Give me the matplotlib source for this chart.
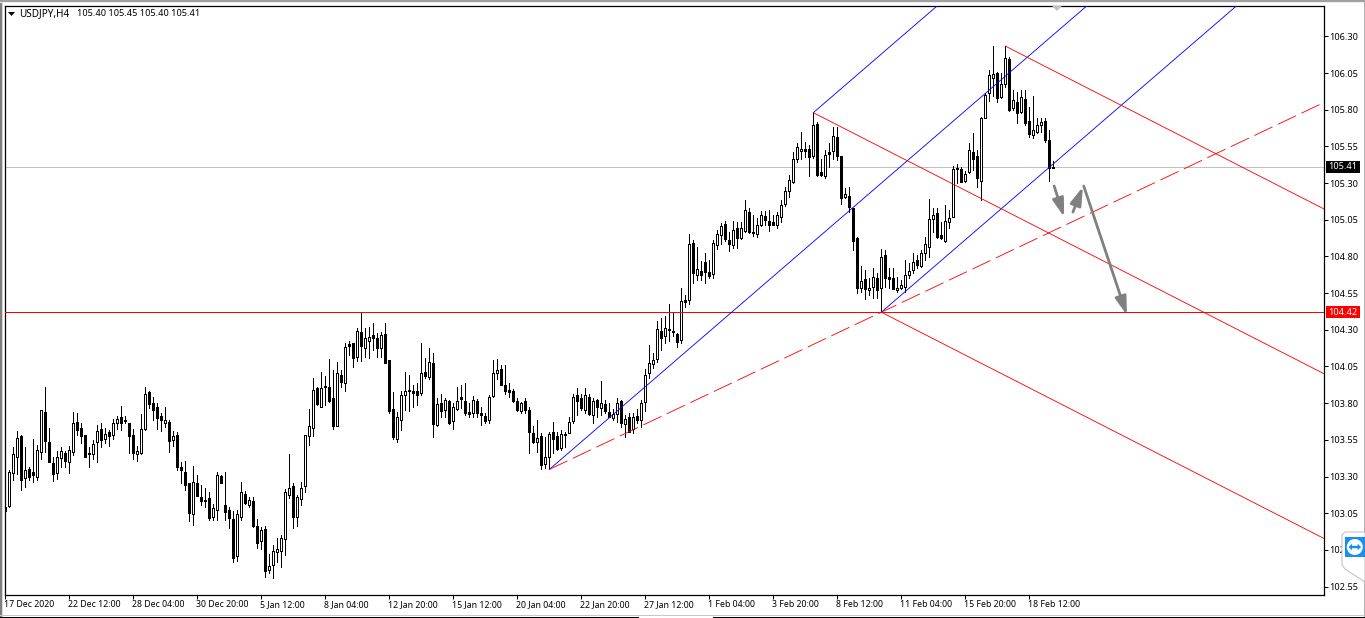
import matplotlib
matplotlib.use("Agg")
import matplotlib.pyplot as plt
from matplotlib.patches import Polygon, Rectangle, Circle
from matplotlib.transforms import Affine2D, ScaledTranslation

symbol_text = "USDJPY,H4"
ohlc_text = "105.40 105.45 105.40 105.41"

opens = [
103.091,103.102,103.323,103.436,103.577,103.289,103.350,103.332,103.300,103.470,
103.741,103.536,103.391,103.327,103.423,103.461,103.402,103.470,103.673,103.630,
103.582,103.459,103.450,103.532,103.623,103.559,103.605,103.580,103.668,103.705,
103.684,103.664,103.582,103.450,103.457,103.625,103.877,103.800,103.773,103.714,
103.668,103.670,103.550,103.582,103.364,103.332,103.257,103.041,103.255,103.159,
103.139,103.155,103.027,103.070,103.302,103.105,103.070,103.009,102.761,103.027,
103.182,103.109,103.132,102.961,102.857,102.941,102.666,102.700,102.782,102.789,
102.873,103.175,103.236,103.023,103.150,103.234,103.573,103.630,103.905,103.777,
103.907,103.909,103.834,103.645,103.992,103.939,104.203,104.208,104.117,104.283,
104.178,104.226,104.262,104.244,104.178,104.269,104.094,103.758,103.558,103.685,
103.858,103.887,103.880,103.880,103.871,104.012,103.980,104.071,103.648,103.801,
103.753,103.814,103.680,103.758,103.839,103.812,103.737,103.730,103.814,103.730,
103.712,103.687,103.851,104.008,104.035,103.921,103.892,103.883,103.812,103.748,
103.812,103.751,103.598,103.537,103.578,103.385,103.435,103.601,103.576,103.494,
103.592,103.598,103.680,103.855,103.835,103.753,103.844,103.721,103.821,103.769,
103.792,103.739,103.701,103.726,103.814,103.660,103.705,103.621,103.712,103.685,
103.810,104.003,104.067,104.098,104.292,104.260,104.300,104.292,104.271,104.230,
104.500,104.500,104.892,104.676,104.698,104.760,104.691,104.678,104.878,104.944,
105.021,104.910,104.880,104.991,104.923,104.976,105.103,104.964,104.950,105.017,
105.076,105.041,105.034,105.014,105.071,105.157,105.248,105.310,105.466,105.521,
105.530,105.530,105.487,105.703,105.373,105.350,105.510,105.521,105.612,105.485,
105.207,105.210,105.130,104.923,104.582,104.644,104.569,104.589,104.650,104.582,
104.807,104.657,104.650,104.569,104.587,104.589,104.673,104.707,104.775,104.734,
104.825,104.866,105.057,105.094,104.944,104.907,105.032,105.071,105.396,105.396,
105.314,105.373,105.512,105.485,105.316,105.746,105.911,106.018,106.048,105.884,
105.975,106.146,105.810,105.852,105.784,105.873,105.723,105.627,105.648,105.698,
105.723,105.593,105.400]

highs = [
103.175,103.345,103.500,103.611,103.584,103.498,103.368,103.557,103.516,103.755,
103.907,103.634,103.436,103.475,103.498,103.477,103.505,103.739,103.734,103.664,
103.584,103.500,103.550,103.652,103.664,103.630,103.618,103.691,103.714,103.782,
103.714,103.664,103.625,103.507,103.727,103.909,103.884,103.845,103.800,103.732,
103.775,103.686,103.607,103.605,103.402,103.407,103.257,103.373,103.311,103.243,
103.220,103.193,103.114,103.334,103.307,103.330,103.089,103.068,103.073,103.261,
103.200,103.157,103.159,103.011,102.959,102.964,102.773,102.834,102.880,102.902,
103.214,103.455,103.255,103.175,103.264,103.584,103.761,103.973,103.909,104.014,
103.982,104.102,104.027,104.080,104.026,104.208,104.226,104.212,104.310,104.419,
104.310,104.321,104.346,104.276,104.287,104.346,104.094,103.878,103.742,103.885,
104.012,103.992,103.923,103.935,104.208,104.105,104.178,104.144,103.833,103.860,
103.837,103.821,103.798,103.908,103.923,103.939,103.803,103.851,103.826,103.776,
103.730,103.855,104.094,104.098,104.060,104.060,103.935,103.894,103.833,103.810,
103.833,103.771,103.644,103.685,103.598,103.571,103.605,103.673,103.605,103.617,
103.605,103.708,103.862,103.901,103.862,103.901,103.862,103.833,103.828,103.951,
103.821,103.798,103.758,103.833,103.821,103.719,103.730,103.730,103.760,103.821,
104.030,104.196,104.140,104.360,104.378,104.394,104.476,104.423,104.280,104.582,
104.537,104.950,104.912,104.862,104.771,104.825,104.775,104.912,104.980,105.026,
105.041,104.969,105.044,105.037,105.037,105.185,105.128,105.082,105.060,105.112,
105.112,105.117,105.082,105.100,105.185,105.271,105.355,105.514,105.571,105.650,
105.582,105.560,105.780,105.719,105.462,105.525,105.571,105.680,105.680,105.485,
105.264,105.271,105.132,104.935,104.734,104.707,104.650,104.719,104.684,104.850,
104.843,104.719,104.719,104.657,104.639,104.775,104.753,104.821,104.810,104.843,
104.935,105.191,105.128,105.128,105.037,105.150,105.116,105.416,105.428,105.412,
105.385,105.575,105.643,105.525,105.748,105.911,106.071,106.234,106.060,106.048,
106.234,106.161,105.934,105.923,105.934,105.934,105.820,105.893,105.741,105.741,
105.741,105.661,105.450]

lows = [
103.061,103.089,103.277,103.318,103.209,103.227,103.277,103.264,103.277,103.420,
103.470,103.398,103.266,103.286,103.364,103.368,103.327,103.448,103.586,103.527,
103.432,103.368,103.420,103.402,103.498,103.527,103.509,103.557,103.623,103.618,
103.668,103.457,103.420,103.409,103.455,103.620,103.770,103.682,103.627,103.607,
103.639,103.470,103.511,103.345,103.255,103.209,103.000,102.966,103.164,103.109,
103.095,103.005,103.005,103.005,103.255,103.005,102.952,102.720,102.727,103.005,
103.114,103.089,102.959,102.814,102.807,102.618,102.639,102.611,102.720,102.686,
102.766,103.152,102.952,102.964,103.107,103.191,103.518,103.573,103.789,103.777,
103.789,103.811,103.623,103.641,103.908,103.885,104.128,104.048,104.087,104.087,
104.112,104.105,104.162,104.112,104.112,104.071,103.730,103.553,103.537,103.617,
103.753,103.746,103.776,103.787,103.855,103.969,103.962,103.571,103.644,103.708,
103.708,103.658,103.623,103.753,103.764,103.719,103.708,103.708,103.708,103.648,
103.662,103.662,103.844,103.962,103.923,103.862,103.844,103.810,103.748,103.730,
103.735,103.458,103.526,103.469,103.348,103.355,103.348,103.458,103.480,103.480,
103.503,103.594,103.662,103.719,103.753,103.730,103.719,103.667,103.708,103.719,
103.730,103.703,103.685,103.673,103.639,103.571,103.601,103.594,103.662,103.635,
103.749,103.970,104.038,104.082,104.162,104.208,104.226,104.257,104.180,104.208,
104.453,104.476,104.621,104.639,104.639,104.621,104.651,104.651,104.848,104.885,
104.907,104.839,104.855,104.860,104.919,104.969,104.962,104.940,104.930,105.008,
105.014,104.976,105.012,104.991,105.037,105.144,105.208,105.298,105.441,105.464,
105.475,105.348,105.469,105.348,105.348,105.337,105.412,105.462,105.457,105.157,
105.196,105.105,104.843,104.548,104.560,104.507,104.537,104.514,104.514,104.423,
104.594,104.582,104.575,104.560,104.575,104.560,104.650,104.684,104.719,104.725,
104.775,104.798,104.968,104.923,104.916,104.900,104.991,105.071,105.298,105.307,
105.310,105.366,105.389,105.275,105.185,105.741,105.862,105.893,105.855,105.878,
105.957,105.791,105.798,105.712,105.780,105.695,105.611,105.605,105.639,105.650,
105.582,105.316,105.400]

closes = [
103.068,103.330,103.452,103.561,103.277,103.345,103.300,103.307,103.482,103.755,
103.539,103.402,103.320,103.432,103.473,103.409,103.480,103.664,103.620,103.573,
103.436,103.450,103.520,103.609,103.552,103.591,103.573,103.664,103.691,103.668,
103.680,103.573,103.457,103.473,103.623,103.861,103.791,103.755,103.702,103.682,
103.684,103.539,103.573,103.368,103.341,103.239,103.048,103.261,103.170,103.134,
103.130,103.018,103.086,103.311,103.259,103.061,103.020,102.745,103.043,103.193,
103.116,103.139,102.964,102.850,102.936,102.659,102.689,102.791,102.805,102.880,
103.193,103.220,103.027,103.159,103.220,103.582,103.641,103.889,103.791,103.900,
103.920,103.816,103.641,104.005,103.944,104.183,104.192,104.110,104.289,104.192,
104.242,104.248,104.244,104.173,104.262,104.076,103.748,103.571,103.703,103.853,
103.880,103.885,103.871,103.855,104.003,103.985,104.078,103.658,103.792,103.746,
103.821,103.667,103.771,103.817,103.830,103.735,103.726,103.821,103.735,103.721,
103.680,103.839,104.003,104.023,103.926,103.885,103.876,103.814,103.753,103.798,
103.753,103.605,103.537,103.560,103.380,103.430,103.587,103.558,103.487,103.587,
103.583,103.669,103.839,103.817,103.767,103.853,103.726,103.814,103.776,103.801,
103.748,103.708,103.723,103.798,103.667,103.689,103.605,103.703,103.685,103.799,
103.992,104.076,104.094,104.303,104.246,104.310,104.305,104.282,104.219,104.494,
104.491,104.882,104.690,104.714,104.676,104.696,104.669,104.889,104.950,105.010,
104.921,104.887,104.978,104.928,104.991,105.114,104.969,104.960,105.012,105.080,
105.048,105.014,105.017,105.082,105.148,105.244,105.319,105.462,105.544,105.530,
105.521,105.480,105.694,105.357,105.357,105.490,105.500,105.619,105.487,105.200,
105.223,105.139,104.907,104.582,104.632,104.580,104.582,104.657,104.571,104.798,
104.650,104.644,104.580,104.582,104.603,104.671,104.698,104.760,104.744,104.823,
104.882,105.053,105.080,104.930,104.925,105.039,105.060,105.396,105.403,105.310,
105.362,105.523,105.466,105.332,105.741,105.900,106.037,106.041,105.880,105.975,
106.150,105.798,105.866,105.780,105.887,105.707,105.634,105.661,105.695,105.714,
105.593,105.400,105.410]

price_ticks = [106.30,106.05,105.80,105.55,105.30,105.05,104.80,104.55,
               104.30,104.05,103.80,103.55,103.30,103.05,102.80,102.55]
time_labels = ["17 Dec 2020","22 Dec 12:00","28 Dec 04:00","30 Dec 20:00","5 Jan 12:00",
               "8 Jan 04:00","12 Jan 20:00","15 Jan 12:00","20 Jan 04:00","22 Jan 20:00",
               "27 Jan 12:00","1 Feb 04:00","3 Feb 20:00","8 Feb 12:00","11 Feb 04:00",
               "15 Feb 20:00","18 Feb 12:00"]
time_tick_bars = list(range(0, 272, 16))

support_level = 104.42
# pitchfork anchors (bar, price)
blue_fork = [(136, 103.348), (202, 105.78), (219, 104.42)]
red_fork = [(202, 105.78), (250, 106.234), (219, 104.42)]
trend_ray = [(136, 103.348), (219, 104.42)]
# forecast arrows (bar, price) -> (bar, price)
arrows = [((262.2, 105.28), (264.7, 105.069)),
          ((266.9, 105.103), (269.4, 105.275)),
          ((269.6, 105.28), (280.4, 104.40))]

W, H = 1365, 618
FONT = "Noto Sans"
FS = 6.3
FS_Y = 6.6
fig = plt.figure(figsize=(W / 100, H / 100), dpi=100, facecolor="white")
L, R, T, B = 4.5, 1323.5, 5.5, 594.5
ax = fig.add_axes([L / W, 1 - B / H, (R - L) / W, (B - T) / H])
ax.set_xlim((L - 5.33) / 4, (R - 5.33) / 4)
ax.set_ylim(106.30 - (B - 36.4) / 146.7, 106.30 - (T - 36.4) / 146.7)
for s in ax.spines.values():
    s.set_linewidth(0.9)
    s.set_color("black")

LW = 0.72
RAY_LW = 0.62
xs = list(range(len(opens)))
ax.vlines(xs, lows, highs, color="black", lw=LW, antialiased=False, zorder=3)
for i in xs:
    bull = closes[i] >= opens[i]
    lo, hi = min(opens[i], closes[i]), max(opens[i], closes[i])
    ax.add_patch(Rectangle((i - 0.25, lo), 0.5, hi - lo,
                           facecolor="white" if bull else "black",
                           edgecolor="black", lw=LW, antialiased=False, zorder=4))

ax.axhline(closes[-1], color="#c0c0c0", lw=LW, antialiased=False, zorder=2)
ax.axhline(support_level, color="#ff0000", lw=LW, antialiased=False, zorder=5)

xmax = ax.get_xlim()[1]


def ray(p0, p1, color, ls="-"):
    slope = (p1[1] - p0[1]) / (p1[0] - p0[0])
    ax.plot([p0[0], xmax + 5], [p0[1], p0[1] + slope * (xmax + 5 - p0[0])],
            color=color, lw=RAY_LW, ls=ls, antialiased=True, zorder=5)


def pitchfork(a, b, c, color):
    mid = ((b[0] + c[0]) / 2, (b[1] + c[1]) / 2)
    dx, dy = mid[0] - a[0], mid[1] - a[1]
    for p in (a, b, c):
        ray(p, (p[0] + dx, p[1] + dy), color)


pitchfork(*blue_fork, "#0000ff")
pitchfork(*red_fork, "#ff0000")
ray(trend_ray[0], trend_ray[1], "#ff0000", ls=(0, (23.2, 7)))

for start, end in arrows:
    ax.annotate("", xy=end, xytext=start, zorder=6,
                arrowprops=dict(arrowstyle="-|>,head_length=1.1,head_width=0.34",
                                mutation_scale=10, lw=2.0, color="#808080",
                                shrinkA=0, shrinkB=0))

ax.yaxis.tick_right()
ax.set_yticks(price_ticks)
ax.set_yticklabels([f"{v:.2f}" for v in price_ticks], fontname=FONT, fontsize=FS_Y)
ax.tick_params(axis="y", length=3.2, width=LW, pad=1.0, color="black")
ax.set_xticks(time_tick_bars)
ax.set_xticklabels(time_labels, fontname=FONT, fontsize=FS, ha="left")
ax.tick_params(axis="x", length=3, width=LW, pad=1.2, color="black")
shift = ScaledTranslation(-1 / 100, 0, fig.dpi_scale_trans)
for lab in ax.get_xticklabels():
    lab.set_transform(lab.get_transform() + shift)

px = Affine2D().scale(1 / W, -1 / H).translate(0, 1) + fig.transFigure


def tag(price, color):
    y = H - ax.transData.transform((0, price))[1]
    fig.add_artist(Rectangle((1326, y - 5.7), 34, 11.4, fc=color, ec="none", transform=px, zorder=7))
    fig.text(1343, y, f"{price:.2f}", transform=px, ha="center", va="center",
             color="white", fontname=FONT, fontsize=FS_Y, zorder=8)


tag(closes[-1], "black")
tag(support_level, "#ff0000")

fig.text(19 / W, 1 - 14 / H, symbol_text, fontname=FONT, fontsize=7.2, va="center", ha="left")
fig.text(77 / W, 1 - 14 / H, ohlc_text, fontname=FONT, fontsize=6.6, va="center", ha="left")
fig.add_artist(Polygon([(8, 12), (15, 12), (11.5, 16)], closed=True, fc="black", ec="none", transform=px))
fig.add_artist(Polygon([(1052, 5.8), (1062, 5.8), (1057, 11)], closed=True, fc="#c0c0c0", ec="none", transform=px, zorder=7))

# window frame
fig.add_artist(Rectangle((0, 0), 1.5, H, fc="#808080", ec="none", transform=px))
fig.add_artist(Rectangle((1.5, 0), 1.5, H, fc="#d8d8d8", ec="none", transform=px))
fig.add_artist(Rectangle((0, 0), W, 1.5, fc="#a0a0a0", ec="none", transform=px))
fig.add_artist(Rectangle((0, 1.5), W, 1.5, fc="#ececec", ec="none", transform=px))
fig.add_artist(Rectangle((W - 1, 2), 1, H, fc="#b0b0b0", ec="none", transform=px))
fig.add_artist(Rectangle((0, 614.8), W, 1.2, fc="#c8c8c8", ec="none", transform=px))
fig.add_artist(Rectangle((0, 617), 639, 1, fc="black", ec="none", transform=px))
fig.add_artist(Rectangle((713, 617), W - 713, 1, fc="black", ec="none", transform=px))

# floating remote-control widget
fig.add_artist(Polygon([(1345, 532), (W, 532), (W, 582), (1345, 569), (1342, 565), (1342, 535)],
                       closed=True, fc="white", ec="#c4c4c4", lw=0.8, transform=px, zorder=9))
fig.add_artist(Rectangle((1345, 537), 19.5, 20, fc="#1590f2", ec="none", transform=px, zorder=10))
fig.add_artist(Circle((1354.8, 547), 8, fc="white", ec="none", transform=px, zorder=11))
fig.add_artist(Polygon([(1348.5, 547), (1352, 543.8), (1352, 545.8), (1357.6, 545.8), (1357.6, 543.8),
                        (1361.1, 547), (1357.6, 550.2), (1357.6, 548.2), (1352, 548.2), (1352, 550.2)],
                       closed=True, fc="#1590f2", ec="none", transform=px, zorder=12))

fig.savefig("out.png", dpi=100, facecolor="white")
